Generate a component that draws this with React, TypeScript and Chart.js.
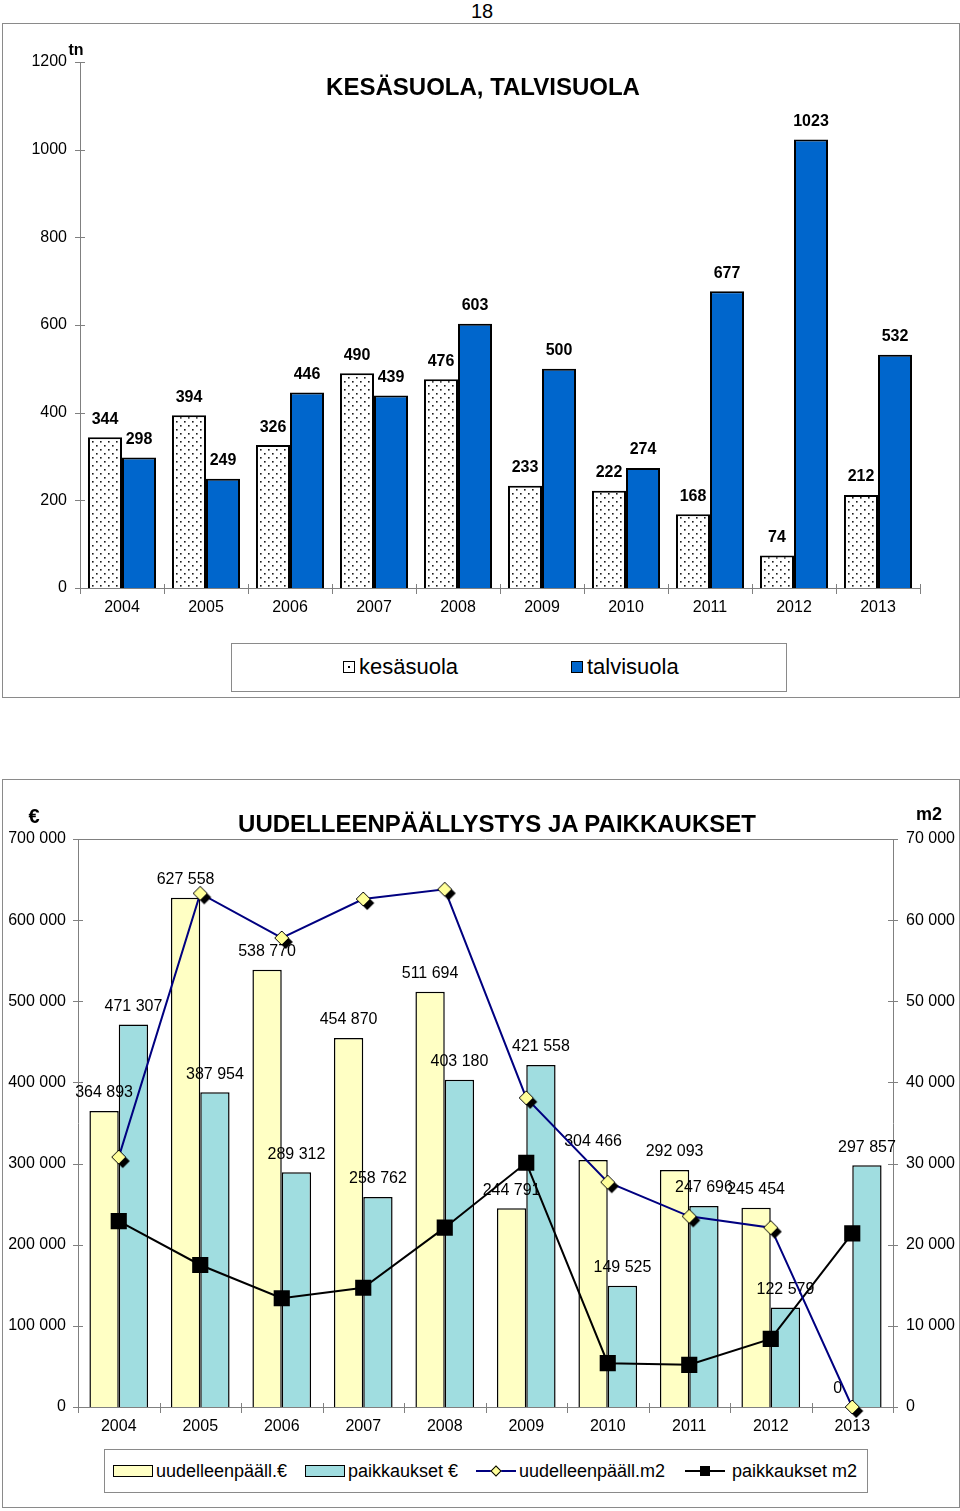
import React, { useEffect, useRef } from "react";
import { Chart, registerables } from "chart.js";
Chart.register(...registerables);

const FONT = "Arial, 'Liberation Sans', sans-serif";

// ---------- data: salt chart ----------
const years = ["2004", "2005", "2006", "2007", "2008", "2009", "2010", "2011", "2012", "2013"];
const kesasuola = [344, 394, 326, 490, 476, 233, 222, 168, 74, 212];
const talvisuola = [298, 249, 446, 439, 603, 500, 274, 677, 1023, 532];
const saltMax = 1200;
const saltStep = 200;

// ---------- data: paving chart ----------
const uudelleenEur = [364893, 627558, 538770, 454870, 511694, 244791, 304466, 292093, 245454, 0];
const paikkauksetEur = [471307, 387954, 289312, 258762, 403180, 421558, 149525, 247696, 122579, 297857];
const uudelleenM2 = [30800, 63300, 57800, 62600, 63800, 38100, 27700, 23500, 22100, 0];
const paikkauksetM2 = [22900, 17500, 13400, 14700, 22100, 30100, 5400, 5200, 8400, 21400];
const eurMax = 700000;
const eurStep = 100000;
const m2Max = 70000;
const m2Step = 10000;

const fmt = (n: number) => String(Math.round(n)).replace(/\B(?=(\d{3})+(?!\d))/g, " ");
const plain = (n: number) => String(Math.round(n));

function makeDotPattern(): CanvasPattern | string {
  const tile = document.createElement("canvas");
  tile.width = 8;
  tile.height = 8;
  const c = tile.getContext("2d")!;
  c.fillStyle = "#ffffff";
  c.fillRect(0, 0, 8, 8);
  c.fillStyle = "#1a1a1a";
  c.fillRect(1, 1, 1.6, 1.6);
  c.fillRect(5, 5, 1.6, 1.6);
  const p = c.createPattern(tile, "repeat");
  return p || "#ffffff";
}

function makeDiamond(): HTMLCanvasElement {
  const cv = document.createElement("canvas");
  cv.width = 32;
  cv.height = 32;
  const c = cv.getContext("2d")!;
  const d = (cx: number, cy: number, r: number) => {
    c.beginPath();
    c.moveTo(cx, cy - r);
    c.lineTo(cx + r, cy);
    c.lineTo(cx, cy + r);
    c.lineTo(cx - r, cy);
    c.closePath();
  };
  d(20, 20, 7);
  c.fillStyle = "#000";
  c.fill();
  d(16, 16, 7);
  c.fillStyle = "#FFFF99";
  c.fill();
  c.lineWidth = 1;
  c.strokeStyle = "#000";
  c.stroke();
  return cv;
}

// Draws value labels for all bar datasets once the last bar dataset has been drawn
// (so labels sit above every bar but below the line series).
const barLabelPlugin = {
  id: "barLabels",
  beforeDatasetsDraw(chart: any) {
    chart.$barsDrawn = 0;
  },
  afterDatasetDraw(chart: any, args: any, opts: any) {
    if (args.meta.type !== "bar") return;
    chart.$barsDrawn = (chart.$barsDrawn || 0) + 1;
    const barMetas = chart.getSortedVisibleDatasetMetas().filter((m: any) => m.type === "bar");
    if (chart.$barsDrawn < barMetas.length) return;
    const ctx = chart.ctx;
    const f = opts.spaced ? fmt : plain;
    ctx.save();
    ctx.font = opts.font;
    ctx.fillStyle = "#000";
    ctx.textAlign = "center";
    ctx.textBaseline = "middle";
    barMetas.forEach((meta: any) => {
      const ds = chart.data.datasets[meta.index];
      meta.data.forEach((el: any, i: number) => {
        ctx.fillText(f(ds.data[i]), el.x, el.y - opts.offset);
      });
    });
    ctx.restore();
  },
};

const decorPlugin = {
  id: "decor",
  afterDraw(chart: any, _args: any, opts: any) {
    const { ctx, chartArea } = chart;
    ctx.save();
    ctx.strokeStyle = "#808080";
    ctx.lineWidth = 1;
    const line = (x1: number, y1: number, x2: number, y2: number) => {
      ctx.beginPath();
      ctx.moveTo(x1, y1);
      ctx.lineTo(x2, y2);
      ctx.stroke();
    };
    (opts.yScales || []).forEach((spec: any) => {
      const s = chart.scales[spec.id];
      const x = spec.side === "right" ? chartArea.right : chartArea.left;
      s.ticks.forEach((t: any) => {
        const y = Math.round(s.getPixelForValue(t.value)) + 0.5;
        line(x - 5, y, x + 5, y);
      });
    });
    const n = chart.data.labels.length;
    const w = (chartArea.right - chartArea.left) / n;
    for (let i = 0; i <= n; i++) {
      const x = Math.round(chartArea.left + i * w) + 0.5;
      line(x, chartArea.bottom - 4, x, chartArea.bottom + 6);
    }
    if (opts.frameTop) {
      line(chartArea.left, chartArea.top + 0.5, chartArea.right, chartArea.top + 0.5);
    }
    ctx.restore();
  },
};

const tickFont = { family: FONT, size: 16 };

function SaltChart() {
  const ref = useRef<HTMLCanvasElement>(null);
  useEffect(() => {
    const chart = new Chart(ref.current!, {
      type: "bar",
      data: {
        labels: years,
        datasets: [
          {
            label: "kesäsuola",
            data: kesasuola,
            backgroundColor: makeDotPattern() as any,
            borderColor: "#000",
            borderWidth: 2,
            categoryPercentage: 0.81,
            barPercentage: 1,
          },
          {
            label: "talvisuola",
            data: talvisuola,
            backgroundColor: "#0066CC",
            borderColor: "#000",
            borderWidth: 2,
            categoryPercentage: 0.81,
            barPercentage: 1,
          },
        ],
      },
      options: {
        animation: false,
        responsive: true,
        maintainAspectRatio: false,
        events: [],
        layout: { padding: { left: 0, top: 38, right: 39, bottom: 69 } },
        plugins: {
          legend: { display: false },
          tooltip: { enabled: false },
          barLabels: { font: `bold 16px ${FONT}`, offset: 18, spaced: false },
          decor: { yScales: [{ id: "y", side: "left" }], frameTop: false },
        } as any,
        scales: {
          x: {
            grid: { display: false, drawTicks: false },
            border: { display: true, color: "#808080", width: 1 },
            ticks: { font: tickFont, color: "#000", padding: 10, maxRotation: 0, autoSkip: false },
            afterFit: (s: any) => {
              s.height = 40;
            },
          },
          y: {
            min: 0,
            max: saltMax,
            grid: { display: false, drawTicks: false },
            border: { display: true, color: "#808080", width: 1 },
            ticks: { stepSize: saltStep, font: tickFont, color: "#000", padding: 13, callback: (v: any) => plain(v) },
            afterFit: (s: any) => {
              s.width = 77;
            },
          },
        },
      },
      plugins: [barLabelPlugin, decorPlugin],
    });
    return () => chart.destroy();
  }, []);
  return <canvas ref={ref} />;
}

function PavingChart() {
  const ref = useRef<HTMLCanvasElement>(null);
  useEffect(() => {
    const chart = new Chart(ref.current!, {
      type: "bar",
      data: {
        labels: years,
        datasets: [
          {
            type: "bar",
            label: "uudelleenpääll.€",
            data: uudelleenEur,
            yAxisID: "y",
            backgroundColor: "#FFFFC4",
            borderColor: "#000",
            borderWidth: 1.5,
            categoryPercentage: 0.72,
            barPercentage: 1,
            order: 3,
          },
          {
            type: "bar",
            label: "paikkaukset €",
            data: paikkauksetEur,
            yAxisID: "y",
            backgroundColor: "#A0DDE0",
            borderColor: "#000",
            borderWidth: 1.5,
            categoryPercentage: 0.72,
            barPercentage: 1,
            order: 3,
          },
          {
            type: "line",
            label: "uudelleenpääll.m2",
            data: uudelleenM2,
            yAxisID: "y2",
            borderColor: "#000080",
            borderWidth: 2,
            tension: 0,
            pointStyle: makeDiamond() as any,
            pointRadius: 8,
            clip: false as any,
            order: 1,
          },
          {
            type: "line",
            label: "paikkaukset m2",
            data: paikkauksetM2,
            yAxisID: "y2",
            borderColor: "#000",
            borderWidth: 2,
            tension: 0,
            pointStyle: "rect",
            pointRadius: 10,
            pointBackgroundColor: "#000",
            pointBorderColor: "#000",
            clip: false as any,
            order: 2,
          },
        ] as any,
      },
      options: {
        animation: false,
        responsive: true,
        maintainAspectRatio: false,
        events: [],
        layout: { padding: { left: 0, top: 59, right: 0, bottom: 60 } },
        plugins: {
          legend: { display: false },
          tooltip: { enabled: false },
          barLabels: { font: `16px ${FONT}`, offset: 18, spaced: true },
          decor: {
            yScales: [
              { id: "y", side: "left" },
              { id: "y2", side: "right" },
            ],
            frameTop: true,
          },
        } as any,
        scales: {
          x: {
            grid: { display: false, drawTicks: false },
            border: { display: true, color: "#808080", width: 1 },
            ticks: { font: tickFont, color: "#000", padding: 10, maxRotation: 0, autoSkip: false },
            afterFit: (s: any) => {
              s.height = 40;
            },
          },
          y: {
            position: "left",
            min: 0,
            max: eurMax,
            grid: { display: false, drawTicks: false },
            border: { display: true, color: "#808080", width: 1 },
            ticks: { stepSize: eurStep, font: tickFont, color: "#000", padding: 12, callback: (v: any) => fmt(v) },
            afterFit: (s: any) => {
              s.width = 75;
            },
          },
          y2: {
            position: "right",
            min: 0,
            max: m2Max,
            grid: { display: false, drawTicks: false },
            border: { display: true, color: "#808080", width: 1 },
            ticks: { stepSize: m2Step, font: tickFont, color: "#000", padding: 13, callback: (v: any) => fmt(v) },
            afterFit: (s: any) => {
              s.width = 66;
            },
          },
        },
      },
      plugins: [barLabelPlugin, decorPlugin],
    });
    return () => chart.destroy();
  }, []);
  return <canvas ref={ref} />;
}

type TxtProps = { x: number; y: number; size: number; bold?: boolean; align?: "left" | "center" | "right"; children: React.ReactNode };
function Txt({ x, y, size, bold, align = "left", children }: TxtProps) {
  const lh = Math.round(size * 1.2);
  return (
    <div
      style={{
        position: "absolute",
        left: x,
        top: y - lh / 2,
        height: lh,
        lineHeight: `${lh}px`,
        fontSize: size,
        fontFamily: FONT,
        fontWeight: bold ? "bold" : "normal",
        whiteSpace: "nowrap",
        color: "#000",
        transform: align === "center" ? "translateX(-50%)" : align === "right" ? "translateX(-100%)" : undefined,
      }}
    >
      {children}
    </div>
  );
}

const boxStyle = (left: number, top: number, width: number, height: number): React.CSSProperties => ({
  position: "absolute",
  left,
  top,
  width,
  height,
  border: "1px solid #8a8a8a",
  boxSizing: "border-box",
  background: "#fff",
});

function Swatch({ left, top, width, height, bg, dot }: { left: number; top: number; width: number; height: number; bg: string; dot?: boolean }) {
  return (
    <div style={{ position: "absolute", left, top, width, height, background: bg, border: "1px solid #000", boxSizing: "border-box" }}>
      {dot ? <div style={{ position: "absolute", left: width / 2 - 2, top: height / 2 - 2, width: 2, height: 2, background: "#000" }} /> : null}
    </div>
  );
}

function LineSwatch({ left, cy, color, marker }: { left: number; cy: number; color: string; marker: "diamond" | "square" }) {
  return (
    <>
      <div style={{ position: "absolute", left, top: cy - 1, width: 40, height: 2, background: color }} />
      {marker === "diamond" ? (
        <div
          style={{
            position: "absolute",
            left: left + 16,
            top: cy - 4,
            width: 8,
            height: 8,
            background: "#FFFF99",
            border: "1px solid #000",
            boxSizing: "border-box",
            transform: "rotate(45deg)",
          }}
        />
      ) : (
        <div style={{ position: "absolute", left: left + 15, top: cy - 5, width: 10, height: 10, background: "#000" }} />
      )}
    </>
  );
}

export default function App() {
  return (
    <div style={{ position: "absolute", left: 0, top: 0, width: 960, height: 1511, background: "#fff", fontFamily: FONT }}>
      <Txt x={482} y={11} size={20} align="center">
        18
      </Txt>

      {/* Top chart */}
      <div style={boxStyle(2, 23, 958, 675)}>
        <div style={{ position: "absolute", left: 0, top: 0, width: 956, height: 673 }}>
          <SaltChart />
        </div>
      </div>
      <Txt x={483} y={86} size={24} bold align="center">
        KESÄSUOLA, TALVISUOLA
      </Txt>
      <Txt x={76} y={49} size={16} bold align="center">
        tn
      </Txt>
      <div style={boxStyle(231, 643, 556, 49)} />
      <Swatch left={343} top={661} width={12} height={12} bg="#fff" dot />
      <Txt x={359} y={667} size={22}>
        kesäsuola
      </Txt>
      <Swatch left={571} top={661} width={12} height={12} bg="#0066CC" />
      <Txt x={587} y={667} size={22}>
        talvisuola
      </Txt>

      {/* Bottom chart */}
      <div style={boxStyle(2, 779, 958, 729)}>
        <div style={{ position: "absolute", left: 0, top: 0, width: 956, height: 727 }}>
          <PavingChart />
        </div>
      </div>
      <Txt x={497} y={823} size={24} bold align="center">
        UUDELLEENPÄÄLLYSTYS JA PAIKKAUKSET
      </Txt>
      <Txt x={34} y={816} size={20} bold align="center">
        €
      </Txt>
      <Txt x={929} y={814} size={18} bold align="center">
        m2
      </Txt>
      <div style={boxStyle(104, 1449, 764, 44)} />
      <Swatch left={113} top={1465} width={40} height={12} bg="#FFFFC4" />
      <Txt x={156} y={1471} size={18}>
        uudelleenpääll.€
      </Txt>
      <Swatch left={305} top={1465} width={40} height={12} bg="#A0DDE0" />
      <Txt x={348} y={1471} size={18}>
        paikkaukset €
      </Txt>
      <LineSwatch left={476} cy={1471} color="#000080" marker="diamond" />
      <Txt x={519} y={1471} size={18}>
        uudelleenpääll.m2
      </Txt>
      <LineSwatch left={685} cy={1471} color="#000" marker="square" />
      <Txt x={732} y={1471} size={18}>
        paikkaukset m2
      </Txt>
    </div>
  );
}
